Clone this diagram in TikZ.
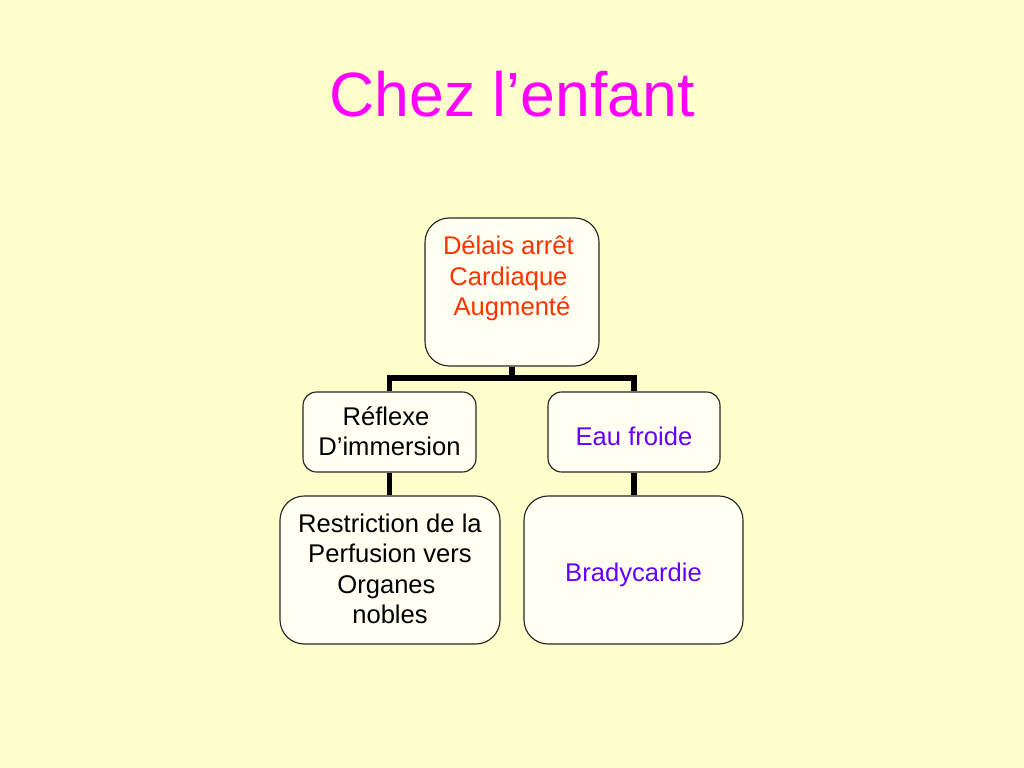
\documentclass[tikz,border=0pt]{standalone}
\usepackage{fontspec}
\setmainfont{Liberation Sans}
\definecolor{bgcol}{HTML}{FFFFCC}
\definecolor{boxfill}{HTML}{FFFFF2}
\definecolor{titlecol}{HTML}{FF00FF}
\definecolor{redtxt}{HTML}{FF3300}
\definecolor{purtxt}{HTML}{6600FF}
\newcommand\lnstrut{\rule[-0.07\baselineskip]{0pt}{\baselineskip}}
\newcommand\tsp{\kern0.278em}
\begin{document}
\begin{tikzpicture}[x=0.703125pt,y=-0.703125pt,
  box/.style={draw=black!85, line width=0.8pt, fill=boxfill, inner sep=0pt,
    align=center, font=\fontsize{18pt}{21.45pt}\selectfont,
    execute at begin node=\lnstrut, execute at end node=\lnstrut},
  conn/.style={line width=4.2pt, draw=black, line join=miter, line cap=butt},
  titletxt/.style={font=\fontsize{44pt}{52pt}\selectfont, text=titlecol, inner sep=0pt}]
\fill[bgcol] (0,0) rectangle (1024,768);
\useasboundingbox (0,0) rectangle (1024,768);

\node[titletxt, anchor=base] (title) at (512,117) {Chez l’enfant};

\node[box, text=redtxt, rounded corners=17pt, minimum width=122.34pt, minimum height=104.06pt] (top) at (512,292)
  {Délais arrêt\tsp\\Cardiaque\tsp\\Augmenté\\\mbox{}};
\node[box, rounded corners=9.5pt, minimum width=121.64pt, minimum height=56.25pt] (refl) at (389.5,432)
  {Réflexe\tsp\\D’immersion};
\node[box, text=purtxt, rounded corners=9.5pt, minimum width=120.94pt, minimum height=56.25pt] (eau) at (634,432)
  {Eau froide};
\node[box, rounded corners=17pt, minimum width=154.69pt, minimum height=104.06pt] (restr) at (390,570)
  {Restriction de la\\Perfusion vers\\Organes\tsp\\nobles};
\node[box, text=purtxt, rounded corners=17pt, minimum width=153.98pt, minimum height=104.06pt] (brady) at (633.5,570)
  {Bradycardie};

\coordinate (bar) at (512,378);
\draw[conn] (top.south) -- (bar) -| (refl.north);
\draw[conn] (bar) -| (eau.north);
\draw[conn] (refl.south) -- (refl.south |- restr.north);
\draw[conn] (eau.south) -- (eau.south |- brady.north);
\end{tikzpicture}
\end{document}
